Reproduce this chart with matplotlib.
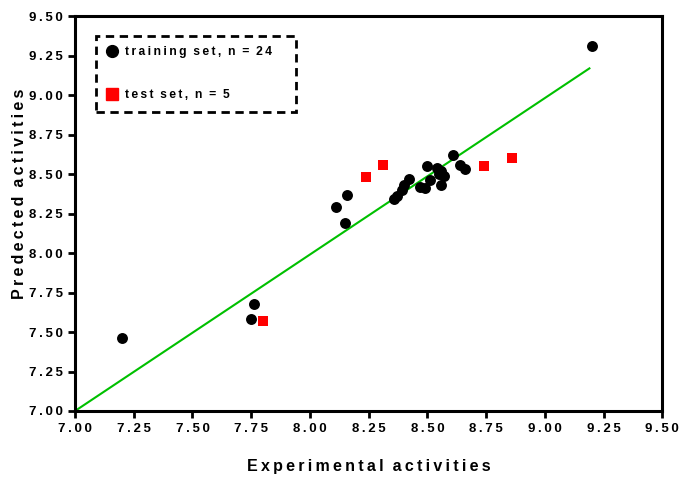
import matplotlib.pyplot as plt
from matplotlib.lines import Line2D

# training set (black circles)
train_x = [9.20, 7.20, 7.76, 7.75, 8.11, 8.16, 8.15,
           8.36, 8.37, 8.39, 8.42, 8.47, 8.49, 8.50, 8.51,
           8.54, 8.55, 8.57, 8.56, 8.61, 8.64, 8.66, 8.40, 8.56]
train_y = [9.31, 7.46, 7.68, 7.58, 8.29, 8.37, 8.19,
           8.34, 8.36, 8.40, 8.47, 8.42, 8.41, 8.55, 8.46,
           8.54, 8.50, 8.49, 8.43, 8.62, 8.56, 8.53, 8.43, 8.52]

# test set (red squares)
test_x = [7.80, 8.24, 8.31, 8.74, 8.86]
test_y = [7.57, 8.48, 8.56, 8.55, 8.60]

# fitted line
line_x = [7.00, 9.19]
line_y = [7.00, 9.17]

ticks = [7.00, 7.25, 7.50, 7.75, 8.00, 8.25, 8.50, 8.75, 9.00, 9.25, 9.50]

plt.rcParams['font.family'] = ['Liberation Sans', 'DejaVu Sans']
plt.rcParams['font.weight'] = 'bold'


def spaced(s):
    # Prism-style wide letter spacing
    return '\u2009'.join(s).replace('\u2009 \u2009', '  ')


fig = plt.figure(figsize=(6.82, 4.79), dpi=100)
ax = fig.add_axes([0.110, 0.142, 0.861, 0.824])

ax.plot(line_x, line_y, color='#00c000', lw=1.5, zorder=2)
ax.scatter(train_x, train_y, s=62, c='black', marker='o', zorder=3, linewidths=0)
ax.scatter(test_x, test_y, s=62, c='#ff0000', marker='s', zorder=3, linewidths=0)

ax.set_xlim(7.0, 9.5)
ax.set_ylim(7.0, 9.5)
ax.set_xticks(ticks)
ax.set_yticks(ticks)
ax.set_xticklabels([spaced('%.2f' % t) for t in ticks], fontsize=9.5, fontweight='bold')
ax.set_yticklabels([spaced('%.2f' % t) for t in ticks], fontsize=9.5, fontweight='bold')
ax.tick_params(direction='out', length=5, width=2, pad=4)

for sp in ax.spines.values():
    sp.set_linewidth(2.2)

ax.set_xlabel(spaced('Experimental activities'), fontsize=11.5, fontweight='bold',
              labelpad=17)
ax.set_ylabel(spaced('Predected activities'), fontsize=11.5, fontweight='bold')
ax.yaxis.set_label_coords(-0.081, 0.551)

handles = [
    Line2D([], [], marker='o', color='black', ls='none', markersize=8.5),
    Line2D([], [], marker='s', color='#ff0000', ls='none', markersize=9),
]
labels = [spaced('training set, n = 24'), spaced('test set, n = 5')]
leg = ax.legend(handles, labels, loc='upper left', bbox_to_anchor=(0.035, 0.951, 0.342, 0.0),
                mode='expand', borderaxespad=0, prop={'size': 8.7, 'weight': 'bold'},
                labelspacing=2.6, handletextpad=0.55, handlelength=1.0, borderpad=0.85,
                fancybox=False, framealpha=1)
frame = leg.get_frame()
frame.set_edgecolor('black')
frame.set_linewidth(2)
frame.set_linestyle((0, (3, 2)))

fig.savefig('out.png', dpi=100)
